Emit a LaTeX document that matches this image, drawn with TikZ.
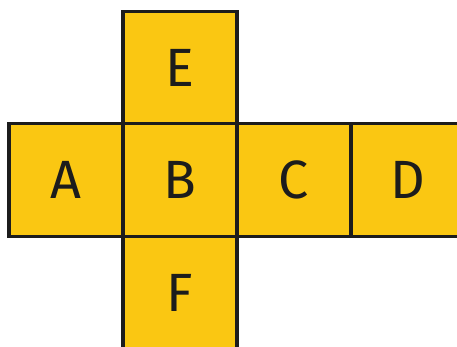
\documentclass[tikz,border=0pt]{standalone}
\usepackage{fontspec}
\setmainfont{Fira Sans}
\definecolor{cyellow}{HTML}{FAC712}
\definecolor{cline}{HTML}{1C1C1C}

\begin{document}
\begin{tikzpicture}[
  face/.style={draw=cline,fill=cyellow,line width=2.6pt,
    minimum width=3.42cm,minimum height=3.375cm,inner sep=0pt,
    text=cline,font=\fontsize{46}{50}\selectfont}]
  \clip (0,0) rectangle (13.71,10.38);
  \node[face] (A) at (1.98,4.98) {A};
  \node[face] (B) at (5.40,4.98) {B};
  \node[face] (C) at (8.82,4.98) {C};
  \node[face] (D) at (12.24,4.98) {D};
  \node[face] (E) at (5.40,8.355) {E};
  \node[face] (F) at (5.40,1.605) {F};
\end{tikzpicture}
\end{document}
